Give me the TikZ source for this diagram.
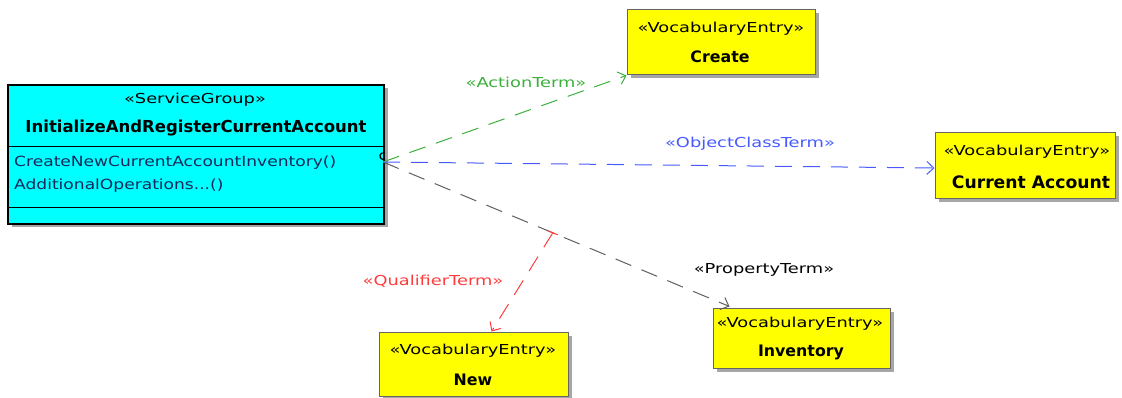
\documentclass[tikz,border=0pt]{standalone}
\usepackage{fontspec}
\setmainfont{DejaVu Sans}
\newfontfamily\widefont[FakeStretch=1.3]{DejaVu Sans}
\newfontfamily\opfont[FakeStretch=1.22]{DejaVu Sans}
\usetikzlibrary{arrows.meta,calc}
\definecolor{boxcyan}{RGB}{0,255,255}
\definecolor{boxyellow}{RGB}{255,255,0}
\definecolor{lgreen}{RGB}{60,175,60}
\definecolor{lblue}{RGB}{70,90,255}
\definecolor{lred}{RGB}{255,60,60}
\definecolor{lgray}{RGB}{95,95,95}
\definecolor{optext}{RGB}{20,40,90}
\tikzset{
  shadowed/.style={preaction={fill=black!35,transform canvas={shift={(3.5pt,-3.5pt)}}}},
  svcbox/.style={draw=black,line width=1.3pt,fill=boxcyan,rectangle,inner sep=0pt,shadowed},
  vocbox/.style={draw=black!60,line width=1pt,fill=boxyellow,rectangle,inner sep=0pt,shadowed},
  stereo/.style={font=\widefont\fontsize{13.7}{15}\selectfont,inner sep=0pt},
  bname/.style={font=\fontsize{16.5}{18}\selectfont\bfseries,inner sep=0pt},
  vname/.style={font=\fontsize{15.8}{18}\selectfont\bfseries,inner sep=0pt},
  optxt/.style={font=\opfont\fontsize{14}{16}\selectfont,inner sep=0pt,anchor=west,text=optext},
  conn/.style={line width=1pt,dash pattern=on 17pt off 11pt,-{Straight Barb[length=7pt,width=13pt]}},
}
\begin{document}
\begin{tikzpicture}[x=1pt,y=-1pt]
\useasboundingbox (0,0) rectangle (1122,398);
% service group
\node[svcbox,minimum width=376pt,minimum height=139pt] (svc) at (196,154.5) {};
\draw[line width=1pt] (8,146.5) -- (384,146.5);
\draw[line width=1pt] (8,208) -- (384,208);
\node[stereo] (svcst) at (195,100) {«ServiceGroup»};
\node[bname] (svcname) at (196,128) {InitializeAndRegisterCurrentAccount};
\node[optxt] (op1) at (14,163) {CreateNewCurrentAccountInventory()};
\node[optxt] (op2) at (14,186) {AdditionalOperations...()};
% vocabulary entries
\node[vocbox,minimum width=188pt,minimum height=65pt] (create) at (721,42.5) {};
\node[stereo] (createst) at (721,29) {«VocabularyEntry»};
\node[vname] (createname) at (720,57) {Create};
\node[vocbox,minimum width=180pt,minimum height=66pt] (cur) at (1025,166) {};
\node[stereo] (curst) at (1027,152) {«VocabularyEntry»};
\node[vname,font=\fontsize{17.2}{19}\selectfont\bfseries] (curname) at (1031,182) {Current Account};
\node[vocbox,minimum width=189pt,minimum height=64pt] (new) at (473.5,364) {};
\node[stereo] (newst) at (473,351) {«VocabularyEntry»};
\node[vname] (newname) at (473,380) {New};
\node[vocbox,minimum width=177pt,minimum height=60pt] (inv) at (801.5,338) {};
\node[stereo] (invst) at (800,324) {«VocabularyEntry»};
\node[vname] (invname) at (801,352) {Inventory};
% connectors
\coordinate (src) at (383,162);
\coordinate (invtip) at ($(inv.north west)+(17,-1)$);
\coordinate (newtip) at ($(new.north)+(18,0)$);
\coordinate (qstart) at ($(src)!0.49!(invtip)$);
\draw[conn,lgray] (src) -- (invtip);
\draw[conn,lgreen] (src) -- (create.south west);
\draw[conn,lblue] (src) -- ($(cur.west)+(0,2)$);
\draw[conn,lred] (qstart) -- (newtip);
\draw[lred,line width=1pt] ($(qstart)+(-5,-2)$) -- ($(qstart)+(5,2)$);
\draw[black,line width=1.2pt] ($(src)+(2,-3)$) arc[start angle=-60,end angle=-300,radius=3.4pt];
% labels
\node[stereo,text=lgreen] (lact) at (526,82) {«ActionTerm»};
\node[stereo,text=lblue] (lobj) at (750,144) {«ObjectClassTerm»};
\node[stereo,text=black] (lprop) at (764,270) {«PropertyTerm»};
\node[stereo,text=lred] (lqual) at (433,281) {«QualifierTerm»};
\end{tikzpicture}
\end{document}
